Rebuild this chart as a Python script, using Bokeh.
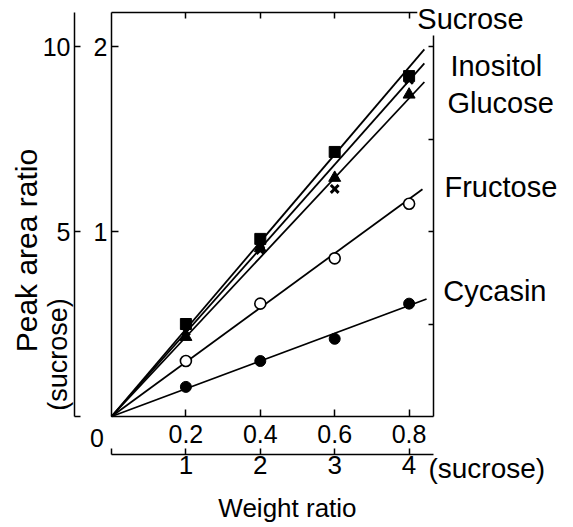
import math
from bokeh.plotting import figure
from bokeh.models import Range1d, LinearAxis, FixedTicker, Label
from bokeh.embed import file_html
from bokeh.resources import INLINE

# ---------------- data ----------------
weight_ratio = [0.2, 0.4, 0.6, 0.8]          # bottom axis, weight ratio
sucrose_units = [1, 2, 3, 4]                 # second bottom axis (sucrose)
series_names = ["Sucrose", "Inositol", "Glucose", "Fructose", "Cycasin"]
sucrose = [0.50, 0.96, 1.43, 1.84]
inositol = [0.46, 0.90, 1.23, 1.82]
glucose = [0.43, 0.91, 1.29, 1.74]
fructose = [0.30, 0.61, 0.855, 1.15]
cycasin = [0.16, 0.30, 0.42, 0.61]
fit_slopes = [2.36, 2.27, 2.15, 1.47, 0.75]   # regression lines through origin
fit_end = [0.841, 0.841, 0.841, 0.836, 0.847]
y_ticks_sucrose = [1, 2]
y_ticks_outer = [0, 5, 10]
y_ticks_right = [0.5, 1, 1.5, 2]

# axis extents of the drawn box
X_MAX = 0.866
Y_MAX = 2.184

FONT = "Liberation Sans"
TICK_FS = "25px"

W, H = 573, 527
PX_X, PX_Y = 372.0, 185.0      # pixels per data unit
X0, Y0 = 111, 416              # pixel position of the origin

p = figure(width=W, height=H, output_backend="svg", toolbar_location=None,
           x_range=Range1d(-X0 / PX_X, (W - X0) / PX_X),
           y_range=Range1d(-(H - Y0) / PX_Y, Y0 / PX_Y),
           x_axis_location=None, y_axis_location=None,
           min_border=0, min_border_left=0, min_border_right=0,
           min_border_top=0, min_border_bottom=0)
p.extra_y_ranges = {"outer": Range1d(-(H - Y0) / PX_Y * 5, Y0 / PX_Y * 5)}
p.extra_x_ranges = {"suc": Range1d(-X0 / PX_X * 5, (W - X0) / PX_X * 5)}
p.background_fill_color = "white"
p.border_fill_color = "white"
p.outline_line_color = None
p.grid.grid_line_color = None
p.grid.visible = False


def style(ax):
    ax.axis_line_color = "black"
    ax.axis_line_width = 1.5
    ax.major_tick_line_color = "black"
    ax.major_tick_line_width = 1.5
    ax.minor_tick_line_color = None
    ax.major_label_text_font = FONT
    ax.major_label_text_font_size = TICK_FS
    ax.major_label_text_color = "black"
    return ax


# left: inner (sucrose scale) axis on the box edge, outer axis further left
ax_in = style(LinearAxis(ticker=FixedTicker(ticks=y_ticks_sucrose), fixed_location=0,
                         bounds=(0, Y_MAX),
                         major_tick_in=7, major_tick_out=0, major_label_standoff=4))
p.add_layout(ax_in, "left")

ax_out = style(LinearAxis(y_range_name="outer", ticker=FixedTicker(ticks=y_ticks_outer),
                          fixed_location=(74 - X0) / PX_X, bounds=(0, Y_MAX * 5),
                          major_label_overrides={0: ""},
                          major_tick_in=6, major_tick_out=0, major_label_standoff=4))
p.add_layout(ax_out, "left")

# bottom: weight ratio axis on the box edge, sucrose axis below it
ax_b1 = style(LinearAxis(ticker=FixedTicker(ticks=weight_ratio), fixed_location=0,
                         bounds=(0, X_MAX),
                         major_tick_in=7, major_tick_out=0, major_label_standoff=8))
p.add_layout(ax_b1, "below")

ax_b2 = style(LinearAxis(x_range_name="suc", ticker=FixedTicker(ticks=[0] + sucrose_units),
                         fixed_location=-(454 - Y0) / PX_Y, bounds=(0, X_MAX * 5),
                         major_label_overrides={0: ""},
                         major_tick_in=6, major_tick_out=0, major_label_standoff=1))
ax_b2.major_label_text_font_size = "26px"
p.add_layout(ax_b2, "below")

# top and right edges of the box: ticks only
ax_top = style(LinearAxis(ticker=FixedTicker(ticks=weight_ratio), fixed_location=Y_MAX,
                          bounds=(0, X_MAX),
                          major_tick_in=6, major_tick_out=0, major_label_standoff=0,
                          major_label_overrides={t: "" for t in weight_ratio}))
ax_top.major_label_text_font_size = "0px"
p.add_layout(ax_top, "above")

ax_right = style(LinearAxis(ticker=FixedTicker(ticks=y_ticks_right), fixed_location=X_MAX,
                            bounds=(0, Y_MAX),
                            major_tick_in=5, major_tick_out=0, major_label_standoff=0,
                            major_label_overrides={t: "" for t in y_ticks_right}))
ax_right.major_label_text_font_size = "0px"
p.add_layout(ax_right, "right")

# fitted lines
for slope, xe in zip(fit_slopes, fit_end):
    p.line([0, xe], [0, slope * xe], line_color="black", line_width=1.8)

# points
p.scatter(weight_ratio, sucrose, marker="square", size=11, color="black")
p.scatter(weight_ratio, inositol, marker="x", size=11, line_color="black", line_width=3)
p.scatter(weight_ratio, glucose, marker="triangle", size=12, color="black")
p.scatter(weight_ratio, fructose, marker="circle", size=11, fill_color="white",
          line_color="black", line_width=1.6)
p.scatter(weight_ratio, cycasin, marker="circle", size=11, color="black")


def lab(text, x, y, size, align="left", angle=0.0, bg=None):
    p.add_layout(Label(x=x, y=y, text=text, text_font=FONT, text_font_size=size,
                       text_align=align, text_baseline="middle", angle=angle,
                       text_color="black", background_fill_color=bg))


# series names on the right
name_pos = [(0.822, 2.146), (0.911, 1.897), (0.903, 1.697), (0.895, 1.243), (0.892, 0.676)]
for name, (lx, ly) in zip(series_names, name_pos):
    lab(name, lx, ly, "29px", bg="white")

lab("0", -0.039, -0.114, TICK_FS, align="center")
lab("(sucrose)", 0.852, -0.281, "28px")
lab("Weight ratio", 0.473, -0.492, "26px", align="center")
lab("Peak area ratio", -0.229, 0.897, "30px", align="center", angle=math.pi / 2)
lab("(sucrose)", -0.145, 0.335, "27px", align="center", angle=math.pi / 2)

open("out.html", "w").write(file_html(p, INLINE))
